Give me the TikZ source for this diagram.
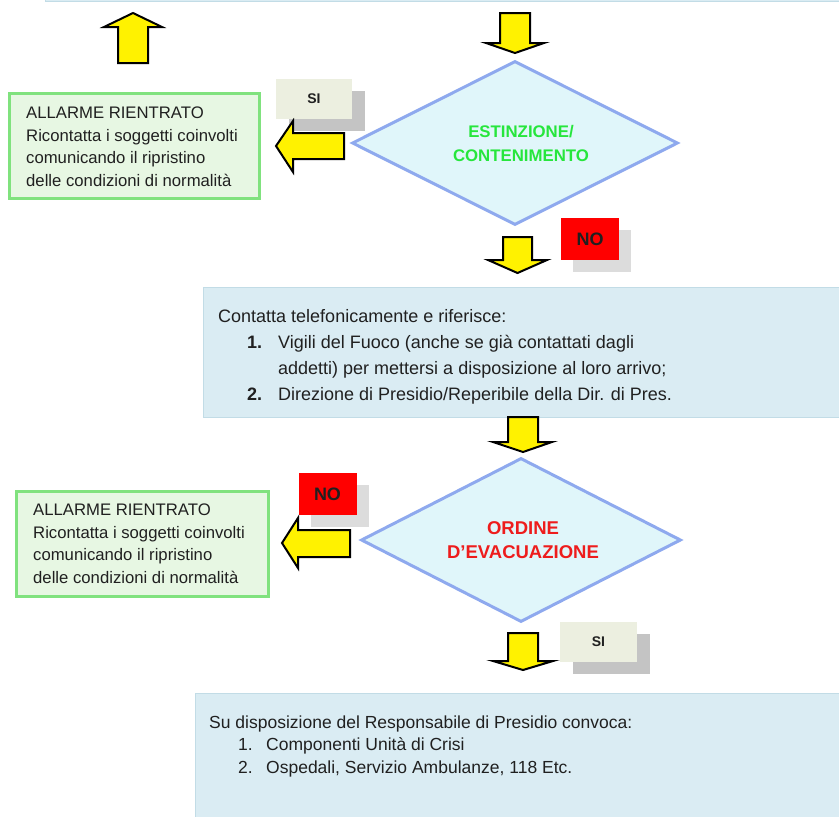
\documentclass[tikz,border=0pt]{standalone}
\usepackage{fontspec}
\setmainfont{Liberation Sans}
\usetikzlibrary{shapes.geometric,shadows}
\definecolor{boxblue}{HTML}{DAECF3}
\definecolor{boxblueedge}{HTML}{C2DCE6}
\definecolor{dfill}{HTML}{E0F6FA}
\definecolor{dedge}{HTML}{8EA9EE}
\definecolor{gfill}{HTML}{E7F7E3}
\definecolor{gedge}{HTML}{80E27E}
\definecolor{sifill}{HTML}{ECEFE0}
\definecolor{sishadow}{HTML}{C4C4C4}
\definecolor{noshadow}{HTML}{DCDCDC}
\definecolor{gtext}{HTML}{26E63C}
\definecolor{rtext}{HTML}{EE1C1C}
\definecolor{ink}{HTML}{202020}
\begin{document}
\begin{tikzpicture}[x=1pt,y=-1pt,
  infobox/.style={fill=boxblue,draw=boxblueedge,line width=1.2pt,inner sep=0pt,anchor=north west},
  greenbox/.style={draw=gedge,fill=gfill,line width=3pt,inner sep=0pt,anchor=north west},
  gtxt/.style={anchor=base west,align=left,inner sep=0pt,text=ink,font=\fontsize{16.7}{22.4}\selectfont},
  btxt/.style={anchor=base west,align=left,inner sep=0pt,text=ink},
  decision/.style={diamond,aspect=2,draw=dedge,fill=dfill,line width=3pt,inner sep=0pt,
     minimum width=326pt,minimum height=164pt,align=center},
  sibox/.style={fill=sifill,inner sep=0pt,minimum width=76pt,minimum height=40pt,text=ink,
     font=\fontsize{14}{16}\selectfont\bfseries,
     drop shadow={shadow xshift=13pt,shadow yshift=-12pt,fill=sishadow,opacity=1}},
  nobox/.style={fill=red,inner sep=0pt,minimum width=58pt,minimum height=42pt,text=ink,
     font=\fontsize{18}{20}\selectfont\bfseries,
     drop shadow={shadow xshift=12pt,shadow yshift=-12pt,fill=noshadow,opacity=1}},
  yarrow/.style={fill=yellow,draw=black,line width=2pt,line join=miter}]
\useasboundingbox (0,0) rectangle (839,817);

% top box (cut off)
\node[infobox,minimum width=800pt,minimum height=12pt,anchor=south west] (topbox) at (45,2) {};

% first decision
\node[decision,font=\fontsize{16.8}{24}\selectfont\bfseries,text=gtext] (d1) at (515,143)
  {\hspace*{12pt}ESTINZIONE/\\\hspace*{12pt}CONTENIMENTO};

% green box 1
\node[greenbox,minimum width=250pt,minimum height=105pt] (g1) at (8,92) {};
\node[gtxt] (g1t) at (26,186) {ALLARME RIENTRATO\\Ricontatta i soggetti coinvolti\\comunicando il ripristino\\delle condizioni di normalit\`a};

% SI box 1
\node[sibox] (si1) at (314,99) {SI};

% NO box 1
\node[nobox] (no1) at (590,239) {NO};

% contatta box
\node[infobox,minimum width=645pt,minimum height=130pt] (cbox) at (203,287) {};
\node[btxt,font=\fontsize{18}{26}\selectfont] (ct) at (218,400)
 {Contatta telefonicamente e riferisce:\\
  \hspace*{29pt}\makebox[31pt][l]{\textbf{1.}}Vigili del Fuoco (anche se gi\`a contattati dagli\\
  \hspace*{60pt}addetti) per mettersi a disposizione al loro arrivo;\\
  \hspace*{29pt}\makebox[31pt][l]{\textbf{2.}}Direzione di Presidio/Reperibile della Dir. di Pres.};

% second decision
\node[decision,minimum width=320pt,font=\fontsize{18.5}{24}\selectfont\bfseries,text=rtext] (d2) at (521,540)
  {\hspace*{4pt}ORDINE\\\hspace*{4pt}D’EVACUAZIONE};

% green box 2
\node[greenbox,minimum width=252pt,minimum height=105pt] (g2) at (15,490) {};
\node[gtxt] (g2t) at (33,583) {ALLARME RIENTRATO\\Ricontatta i soggetti coinvolti\\comunicando il ripristino\\delle condizioni di normalit\`a};

% NO box 2
\node[nobox] (no2) at (327.5,494) {NO};

% SI box 2
\node[sibox,minimum width=77pt] (si2) at (598.5,642) {SI};

% bottom box
\node[infobox,minimum width=655pt,minimum height=140pt] (bbox) at (195,693) {};
\node[btxt,font=\fontsize{17.5}{22.5}\selectfont] (bt) at (209,773)
 {Su disposizione del Responsabile di Presidio convoca:\\
  \hspace*{29pt}\makebox[28pt][l]{1.}Componenti Unit\`a di Crisi\\
  \hspace*{29pt}\makebox[28pt][l]{2.}Ospedali, Servizio Ambulanze, 118 Etc.};

% block arrows
\draw[yarrow] (118,63) -- (118,27) -- (104,27) -- (133,13) -- (162,27) -- (148,27) -- (148,63) -- cycle;
\draw[yarrow] (500,13) -- (530,13) -- (530,43) -- (544,43) -- (515,53) -- (486,43) -- (500,43) -- cycle;
\draw[yarrow] (344,133) -- (293,133) -- (293,121) -- (276,146) -- (293,172) -- (293,159) -- (344,159) -- cycle;
\draw[yarrow] (503,237) -- (532,237) -- (532,260) -- (547,260) -- (517.5,273) -- (488,260) -- (503,260) -- cycle;
\draw[yarrow] (508,417) -- (538,417) -- (538,442) -- (552,442) -- (523,452) -- (493,442) -- (508,442) -- cycle;
\draw[yarrow] (350,530) -- (298,530) -- (298,518) -- (282,543) -- (298,568) -- (298,557) -- (350,557) -- cycle;
\draw[yarrow] (508,633) -- (538,633) -- (538,661) -- (553,661) -- (523,670) -- (493,661) -- (508,661) -- cycle;
\end{tikzpicture}
\end{document}
